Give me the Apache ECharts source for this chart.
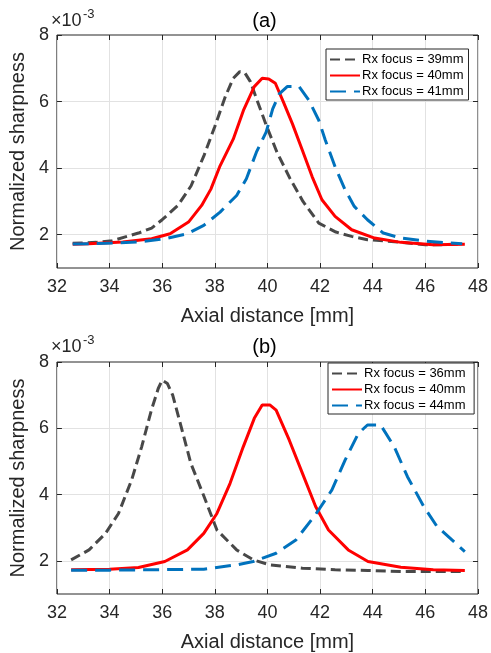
<!DOCTYPE html>
<html><head><meta charset="utf-8">
<script src="https://cdn.jsdelivr.net/npm/echarts@6/dist/echarts.min.js"></script>
<style>html,body{margin:0;padding:0;background:#fff}#c{width:491px;height:653px}</style>
</head><body><div id="c"></div>
<script>
// ---- Data (sharpness values in units of 1e-3) ----
const xTickLabels = [32,34,36,38,40,42,44,46,48];
const yTickLabels = [2,4,6,8];

// Panel (a)
const aNames = ['Rx focus = 39mm','Rx focus = 40mm','Rx focus = 41mm'];
const a39x = [32.6,33.5,34.1,35.1,35.6,36.0,36.6,37.1,37.6,38.0,38.4,38.7,38.95,39.15,39.35,39.6,39.95,40.35,40.85,41.35,41.95,42.6,43.2,43.8,45.0,46.0,46.6,47.4];
const a39y = [1.74,1.77,1.82,2.05,2.2,2.45,2.88,3.47,4.4,5.25,6.15,6.7,6.9,6.85,6.6,6.05,5.3,4.5,3.7,3.0,2.35,2.08,1.95,1.85,1.78,1.7,1.7,1.73];
const a40x = [32.6,33.2,34.5,35.6,36.3,37.0,37.5,37.85,38.2,38.7,39.1,39.5,39.8,40.05,40.3,40.6,40.95,41.33,41.7,42.07,42.57,43.2,44.07,45.07,46.3,47.5];
const a40y = [1.71,1.73,1.78,1.88,2.03,2.38,2.88,3.37,4.07,4.87,5.76,6.45,6.7,6.68,6.55,6.0,5.33,4.53,3.74,3.05,2.55,2.15,1.9,1.77,1.7,1.71];
const a41x = [32.6,33.85,35.1,36.1,36.96,37.58,38.2,38.83,39.2,39.58,39.95,40.2,40.45,40.75,41.2,41.58,41.95,42.2,42.57,42.95,43.3,43.8,44.4,45.07,46.06,47.4];
const a41y = [1.72,1.74,1.78,1.88,2.03,2.28,2.68,3.18,3.68,4.48,5.08,5.78,6.23,6.45,6.45,6.03,5.44,4.84,4.04,3.35,2.85,2.45,2.05,1.9,1.8,1.73];

// Panel (b)
const bNames = ['Rx focus = 36mm','Rx focus = 40mm ','Rx focus = 44mm'];
const b36x = [32.54,33.22,33.85,34.34,34.84,35.22,35.59,35.85,36.0,36.2,36.4,36.72,37.09,37.59,38.08,38.83,39.46,40.08,41.33,42.57,43.82,45.07,46.3,47.4];
const b36y = [2.03,2.33,2.83,3.43,4.44,5.44,6.55,7.2,7.45,7.35,7.0,6.05,4.94,3.94,2.93,2.33,2.03,1.88,1.78,1.73,1.71,1.68,1.68,1.68];
const b40x = [32.54,34.0,35.1,36.1,36.96,37.58,38.08,38.58,39.08,39.5,39.8,40.1,40.33,40.83,41.33,41.83,42.32,43.07,43.82,45.07,46.3,47.5];
const b40y = [1.73,1.75,1.8,1.98,2.33,2.83,3.43,4.34,5.44,6.3,6.7,6.7,6.55,5.64,4.64,3.64,2.93,2.33,1.98,1.81,1.73,1.71];
const b44x = [32.54,34.0,35.5,37.58,38.83,39.46,40.33,41.08,41.83,42.45,42.95,43.45,43.8,44.3,44.82,45.32,45.94,46.44,47.5];
const b44y = [1.72,1.72,1.73,1.75,1.88,1.98,2.23,2.63,3.4,4.14,5.04,5.84,6.1,6.1,5.44,4.54,3.64,3.04,2.28];

const GRAY = '#484848', RED = '#ff0000', BLUE = '#0072bd', INK = '#262626', GRID = '#e2e2e2';
const FONT = 'Liberation Sans, Arial';
const zip = (xs, ys) => xs.map((x, i) => [x, ys[i]]);

function xAx(gi, mirror) {
  return {
    type: 'value', gridIndex: gi, min: 32, max: 48, interval: 2,
    position: mirror ? 'top' : 'bottom',
    name: mirror ? '' : 'Axial distance [mm]', nameLocation: 'middle', nameGap: 38,
    nameTextStyle: { fontSize: 20, color: INK, fontFamily: FONT },
    axisLine: { show: false },
    axisTick: { show: true, inside: true, length: 5, lineStyle: { color: INK } },
    axisLabel: { show: !mirror, fontSize: 18, color: INK, margin: 10, fontFamily: FONT },
    splitLine: { show: !mirror, lineStyle: { color: GRID, width: 1 } }
  };
}
function yAx(gi, mirror) {
  return {
    type: 'value', gridIndex: gi, min: 1, max: 8,
    position: mirror ? 'right' : 'left',
    name: mirror ? '' : 'Normalized sharpness', nameLocation: 'middle', nameGap: 24,
    nameTextStyle: { fontSize: 20, color: INK, fontFamily: FONT },
    axisLine: { show: false },
    axisTick: { show: true, inside: true, length: 5, customValues: yTickLabels, lineStyle: { color: INK } },
    axisLabel: { show: !mirror, fontSize: 18, color: INK, margin: 8, fontFamily: FONT, customValues: yTickLabels },
    splitLine: { show: false }
  };
}
function ser(name, xs, ys, color, dash, gi, withGrid) {
  const s = {
    type: 'line', name, xAxisIndex: gi, yAxisIndex: gi, data: zip(xs, ys),
    symbol: 'none', showSymbol: false, smooth: false, animation: false,
    lineStyle: { color, width: 3, type: dash }, itemStyle: { color }
  };
  if (withGrid) {
    s.markLine = {
      silent: true, symbol: 'none', animation: false, z: 0,
      label: { show: false },
      lineStyle: { color: GRID, width: 1, type: 'solid' },
      data: yTickLabels.filter(v => v < 8).map(v => ({ yAxis: v }))
    };
  }
  return s;
}
function leg(names, left, top) {
  return {
    data: names, orient: 'vertical', left, top, itemWidth: 30, itemHeight: 14, itemGap: 3,
    padding: [4, 5, 2, 3], borderColor: INK, borderWidth: 1, borderRadius: 0, backgroundColor: '#fff',
    itemStyle: { opacity: 0 },
    textStyle: { fontSize: 13, color: '#000', fontFamily: FONT, padding: [0,0,0,-3] },
    selectedMode: false
  };
}

const chart = echarts.init(document.getElementById('c'), null, { renderer: 'canvas' });
chart.setOption({
  backgroundColor: '#fff',
  animation: false,
  title: [
    { text: '(a)', left: 264.5, top: 11, textAlign: 'center', padding: 0,
      textStyle: { fontSize: 20, fontWeight: 'normal', color: '#000', fontFamily: FONT } },
    { text: '(b)', left: 264.5, top: 337, textAlign: 'center', padding: 0,
      textStyle: { fontSize: 20, fontWeight: 'normal', color: '#000', fontFamily: FONT } }
  ],
  graphic: [
    { type: 'text', left: 51, top: 12, style: { text: '×10', fontSize: 18, fill: INK, fontFamily: FONT } },
    { type: 'text', left: 83, top: 8, style: { text: '-3', fontSize: 13, fill: INK, fontFamily: FONT } },
    { type: 'text', left: 51, top: 338, style: { text: '×10', fontSize: 18, fill: INK, fontFamily: FONT } },
    { type: 'text', left: 83, top: 334, style: { text: '-3', fontSize: 13, fill: INK, fontFamily: FONT } }
  ],
  grid: [
    { left: 51, top: 35, width: 427, height: 233, show: true, borderColor: INK, borderWidth: 1, backgroundColor: 'transparent' },
    { left: 51, top: 362, width: 427, height: 232, show: true, borderColor: INK, borderWidth: 1, backgroundColor: 'transparent' }
  ],
  xAxis: [xAx(0), xAx(1), xAx(0, true), xAx(1, true)],
  yAxis: [yAx(0), yAx(1), yAx(0, true), yAx(1, true)],
  legend: [leg(aNames, 326, 49), leg(bNames, 328, 363)],
  series: [
    ser(aNames[0], a39x, a39y, GRAY, [10, 5], 0, true),
    ser(aNames[1], a40x, a40y, RED, 'solid', 0),
    ser(aNames[2], a41x, a41y, BLUE, [16, 8], 0),
    ser(bNames[0], b36x, b36y, GRAY, [10, 5], 1, true),
    ser(bNames[1], b40x, b40y, RED, 'solid', 1),
    ser(bNames[2], b44x, b44y, BLUE, [16, 8], 1)
  ]
});
</script></body></html>
